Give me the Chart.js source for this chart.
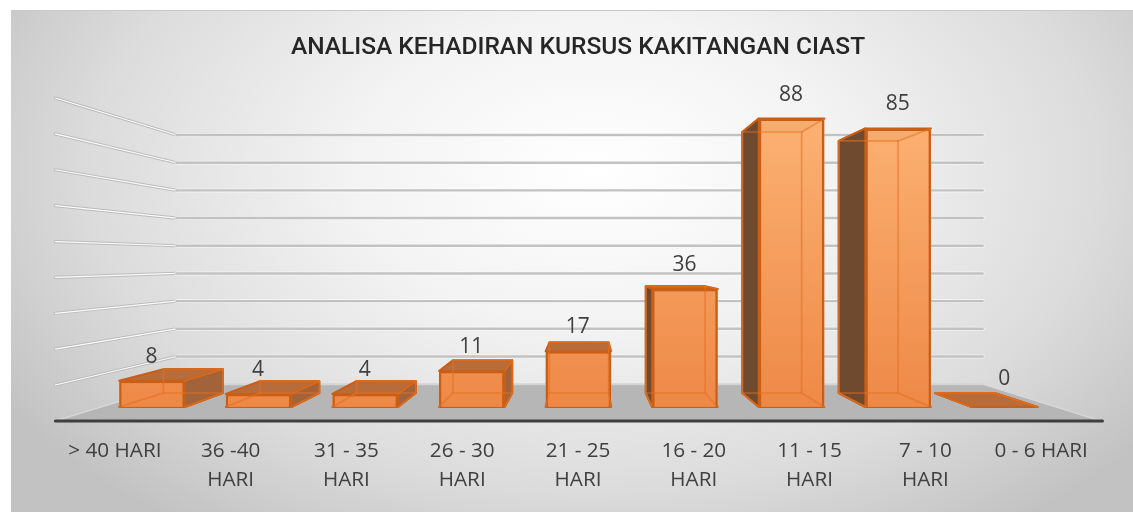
<!DOCTYPE html>
<html>
<head>
<meta charset="utf-8">
<script src="https://cdn.jsdelivr.net/npm/chart.js@4"></script>
<style>
html,body{margin:0;padding:0;background:#fff;overflow:hidden}
#panel{position:absolute;left:11px;top:10px;width:1122px;height:502px;box-sizing:border-box;border-top:1px solid #c9c9c9;
background:radial-gradient(ellipse 62% 88% at 52% 32%,#ffffff 0%,#f3f3f3 35%,#dcdcdc 72%,#c2c2c2 100%)}
canvas{position:absolute;left:0;top:0}
</style>
</head>
<body>
<div id="panel"></div>
<canvas id="c" width="1133" height="512"></canvas>
<script>
const categories = [["> 40 HARI"],["36 -40","HARI"],["31 - 35","HARI"],["26 - 30","HARI"],["21 - 25","HARI"],["16 - 20","HARI"],["11 - 15","HARI"],["7 - 10","HARI"],["0 - 6 HARI"]];
const values = [8,4,4,11,17,36,88,85,0];
const titleText = "ANALISA KEHADIRAN KURSUS KAKITANGAN CIAST";

// Perspective: depth factors applied around the vanishing point, on pixels from the scales
const VX = 585, VY = 260;
const K_EDGE = 1.0946, K_BAR_BACK = 0.905, K_WALL = 0.8445;
const project = (x, y, k) => [VX + k * (x - VX), VY + k * (y - VY)];
const BORDER = '#c95f17';

function poly(ctx, pts, fill, stroke, lw) {
  ctx.beginPath();
  pts.forEach((p, i) => i ? ctx.lineTo(p[0], p[1]) : ctx.moveTo(p[0], p[1]));
  ctx.closePath();
  if (fill) { ctx.fillStyle = fill; ctx.fill(); }
  if (stroke) { ctx.strokeStyle = stroke; ctx.lineWidth = lw || 2; ctx.lineJoin = 'round'; ctx.stroke(); }
}
function seg(ctx, a, b, color, lw) {
  ctx.beginPath(); ctx.moveTo(a[0], a[1]); ctx.lineTo(b[0], b[1]);
  ctx.strokeStyle = color; ctx.lineWidth = lw; ctx.lineCap = 'round'; ctx.stroke();
}
function barCorners(bar) {
  const {x, y: top, base: bot, width} = bar.getProps(['x', 'y', 'base', 'width'], true);
  const l = x - width / 2, r = x + width / 2;
  return {
    l, r,
    ftl: [l, top], ftr: [r, top], fbl: [l, bot], fbr: [r, bot],
    btl: project(l, top, K_BAR_BACK), btr: project(r, top, K_BAR_BACK),
    bbl: project(l, bot, K_BAR_BACK), bbr: project(r, bot, K_BAR_BACK)
  };
}

const scene3d = {
  id: 'scene3d',
  beforeDatasetsDraw(chart) {
    const ctx = chart.ctx, y = chart.scales.y, xs = chart.scales.x;
    const x0 = xs.getPixelForValue(-0.477), x1 = xs.getPixelForValue(8.48);
    const base = y.getPixelForValue(0);
    ctx.save();
    // walls: gridlines from the value scale
    y.ticks.forEach(t => {
      if (t.value === 0) return;
      const p = y.getPixelForValue(t.value);
      const a = project(x0, p, K_EDGE), b = project(x0, p, K_WALL), c = project(x1, p, K_WALL);
      seg(ctx, a, b, '#bcbcbc', 3.2);
      seg(ctx, a, b, 'rgba(255,255,255,.95)', 1.2);
      seg(ctx, b, c, 'rgba(255,255,255,.55)', 4);
      seg(ctx, b, c, '#c2c2c2', 2.4);
    });
    // floor
    const fa = project(x0, base, K_EDGE), fb = project(x1, base, K_EDGE),
          fc = project(x1, base, K_WALL), fd = project(x0, base, K_WALL);
    poly(ctx, [fa, fb, fc, fd], '#b6b6b6');
    seg(ctx, fd, fc, '#d4d4d4', 2);
    seg(ctx, fa, fd, '#d8d8d8', 1.2);
    seg(ctx, fb, fc, '#d8d8d8', 1.2);
    seg(ctx, [fa[0], fa[1]], [fb[0] + 2, fb[1]], '#3f3f3f', 3);
    // bar depth faces
    chart.getDatasetMeta(0).data.forEach(bar => {
      const c = barCorners(bar);
      poly(ctx, [c.ftl, c.ftr, c.fbr, c.fbl], '#f19250');
      poly(ctx, [c.btl, c.btr, c.bbr, c.bbl], '#ef8f4f', BORDER, 2);
      poly(ctx, [c.fbl, c.fbr, c.bbr, c.bbl], '#e8853f', BORDER, 2);
      poly(ctx, [c.ftl, c.ftr, c.btr, c.btl], '#b86c3a', BORDER, 2);
      if (c.btl[0] < c.l) poly(ctx, [c.ftl, c.btl, c.bbl, c.fbl], '#6f4a2e', BORDER, 2);
      if (c.btr[0] > c.r) poly(ctx, [c.ftr, c.btr, c.bbr, c.fbr], '#a3633a', BORDER, 2);
    });
    ctx.restore();
  },
  afterDatasetsDraw(chart) {
    const ctx = chart.ctx;
    ctx.save();
    // back edges showing through the translucent front faces
    chart.getDatasetMeta(0).data.forEach(bar => {
      const c = barCorners(bar);
      const edge = 'rgba(232,115,35,.55)';
      seg(ctx, c.btl, c.btr, edge, 1.6);
      seg(ctx, c.btr, c.bbr, edge, 1.6);
      seg(ctx, c.bbl, c.bbr, edge, 1.6);
      seg(ctx, c.btl, c.bbl, edge, 1.6);
      seg(ctx, c.btr, c.ftr, edge, 1.6);
      seg(ctx, c.bbr, c.fbr, edge, 1.6);
      seg(ctx, c.bbl, c.fbl, edge, 1.6);
    });
    ctx.font = '21px "Open Sans"';
    ctx.fillStyle = '#404040';
    ctx.textAlign = 'center';
    ctx.textBaseline = 'middle';
    chart.getDatasetMeta(0).data.forEach((bar, i) => {
      const v = values[i];
      ctx.fillText(String(v), bar.x - 0.5, bar.y - (v === 0 ? 28 : 24));
    });
    ctx.restore();
  }
};

new Chart(document.getElementById('c'), {
  type: 'bar',
  data: {
    labels: categories,
    datasets: [{
      data: values.map((v, i) => ({x: i, y: v})),
      xAxisID: 'x', yAxisID: 'y',
      barPercentage: 0.696,
      categoryPercentage: 1,
      borderWidth: 2.5,
      borderColor: BORDER,
      backgroundColor(c) {
        const area = c.chart.chartArea;
        if (!area) return '#f09050';
        const g = c.chart.ctx.createLinearGradient(0, area.top, 0, area.bottom);
        g.addColorStop(0, 'rgba(253,182,120,.9)');
        g.addColorStop(1, 'rgba(238,136,70,.9)');
        return g;
      }
    }]
  },
  plugins: [scene3d],
  options: {
    responsive: false,
    animation: false,
    events: [],
    layout: {padding: {left: 57, right: 34, top: 0, bottom: 0}},
    plugins: {
      legend: {display: false},
      tooltip: {enabled: false},
      title: {
        display: true,
        text: titleText,
        fullSize: false,
        color: '#262626',
        font: {family: 'Roboto', size: 24.5, weight: 500, lineHeight: 1.25},
        padding: {top: 33, bottom: 48.4}
      }
    },
    scales: {
      x: {type: 'linear', display: false, offset: false, min: -0.891, max: 8.884, grid: {display: false}},
      x2: {
        type: 'category', position: 'bottom', offset: true, labels: categories,
        grid: {display: false, drawTicks: false}, border: {display: false},
        ticks: {autoSkip: false, maxRotation: 0, minRotation: 0, padding: 30, color: '#404040',
                font: {family: 'Open Sans', size: 20.7, lineHeight: 1.38}},
        afterFit(s) { s.height = 105; }
      },
      y: {
        type: 'linear', display: false, min: 0, max: 90,
        ticks: {stepSize: 10}, grid: {display: false}
      }
    }
  }
});
</script>
</body>
</html>
